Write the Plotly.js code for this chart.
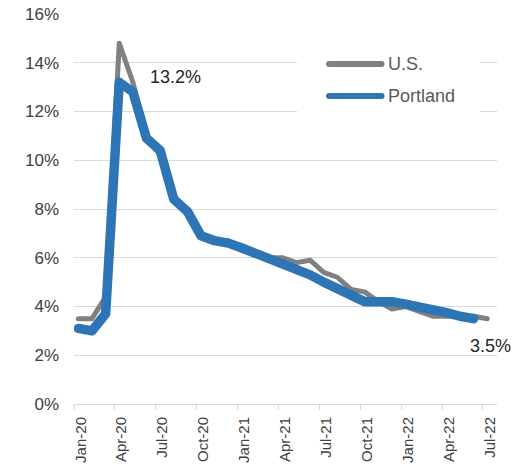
<!DOCTYPE html>
<html>
<head>
<meta charset="utf-8">
<script src="https://cdn.plot.ly/plotly-3.0.1.min.js"></script>
<style>
html,body{margin:0;padding:0;background:#fff;}
#chart{width:518px;height:472px;}
.scatterlayer .js-line{stroke-linejoin:round;stroke-linecap:round;}
.shapelayer path{stroke-linecap:round;}
</style>
</head>
<body>
<div id="chart"></div>
<script>
// Monthly unemployment rate, Jan-20 .. Jul-22 (month index 0..30)
const tickMonthIndex = [0,3,6,9,12,15,18,21,24,27,30];
const tickLabels = ["Jan-20","Apr-20","Jul-20","Oct-20","Jan-21","Apr-21","Jul-21","Oct-21","Jan-22","Apr-22","Jul-22"];
const usRate = [3.5,3.5,4.4,14.8,13.2,11.0,10.2,8.4,7.9,6.9,6.7,6.7,6.4,6.2,6.0,6.0,5.8,5.9,5.4,5.2,4.7,4.6,4.2,3.9,4.0,3.8,3.6,3.6,3.6,3.6,3.5];
const portlandRate = [3.1,3.0,3.7,13.2,12.8,10.9,10.4,8.4,7.9,6.9,6.7,6.6,6.4,6.2,6.0,5.8,5.6,5.3,5.0,4.7,4.4,4.2,4.2,4.2,4.1,4.0,3.85,3.75,3.6,3.5];
const yTicks = [0,2,4,6,8,10,12,14,16];
const seriesNames = ["U.S.","Portland"];

const idx = a => a.map((_, i) => i);
const xRange = [-0.32, 30.71];
const font = "Liberation Sans, Arial, sans-serif";

// Both x axes share the same range; x carries tick marks, x2 carries the (offset) labels.
const traces = [
  {x: idx(usRate), y: usRate, type: "scatter", mode: "lines", name: seriesNames[0],
   xaxis: "x", yaxis: "y", line: {color: "#808080", width: 5}, hoverinfo: "skip"},
  {x: idx(portlandRate), y: portlandRate, type: "scatter", mode: "lines", name: seriesNames[1],
   xaxis: "x2", yaxis: "y", line: {color: "#2E75B6", width: 9.5}, hoverinfo: "skip"}
];

// legend geometry in paper coords
const lgY = [0.872, 0.790];
const lgColors = ["#808080", "#2E75B6"];
const shapes = [
  {type: "rect", xref: "paper", yref: "paper", x0: 0.527, x1: 0.96, y0: 0.749, y1: 0.933,
   fillcolor: "#ffffff", line: {width: 0}, layer: "above"}
];
const annotations = [];
seriesNames.forEach((n, i) => {
  shapes.push({type: "line", xref: "paper", yref: "paper", x0: 0.603, x1: 0.727, y0: lgY[i], y1: lgY[i],
    line: {color: lgColors[i], width: 6}, layer: "above"});
  annotations.push({xref: "paper", yref: "paper", x: 0.738, y: lgY[i], text: n, showarrow: false,
    xanchor: "left", yanchor: "middle", font: {family: font, size: 18, color: "#595959"}});
});
// value labels
annotations.push({xref: "x2", yref: "y", x: 3, y: portlandRate[3], text: portlandRate[3].toFixed(1) + "%", showarrow: false,
  xanchor: "center", yanchor: "middle", xshift: 56, yshift: 5,
  font: {family: font, size: 18, color: "#262626"}});
annotations.push({xref: "x", yref: "y", x: usRate.length - 1, y: usRate[usRate.length - 1], text: usRate[usRate.length - 1].toFixed(1) + "%",
  showarrow: false, xanchor: "center", yanchor: "middle", xshift: 3, yshift: -27,
  font: {family: font, size: 18, color: "#262626"}});

const layout = {
  width: 518, height: 472,
  margin: {l: 74, r: 21, t: 14, b: 68, pad: 0},
  paper_bgcolor: "#ffffff", plot_bgcolor: "#ffffff",
  showlegend: false,
  font: {family: font, color: "#404040"},
  xaxis: {range: xRange, tickmode: "array", tickvals: tickMonthIndex.map(i => i - 0.32),
    showticklabels: false, ticks: "outside", ticklen: 5, tickcolor: "#d9d9d9", tickwidth: 1,
    showline: true, linecolor: "#d9d9d9", linewidth: 1, showgrid: false, zeroline: false, fixedrange: true},
  xaxis2: {overlaying: "x", anchor: "y", side: "bottom", range: xRange, tickmode: "array",
    tickvals: tickMonthIndex.map(i => i + 0.17), ticktext: tickLabels, tickangle: -90,
    ticks: "", showline: false, showgrid: false, zeroline: false, ticklabelstandoff: 9,
    tickfont: {family: font, size: 15, color: "#404040"}, fixedrange: true},
  yaxis: {range: [0, 16], tickmode: "array", tickvals: yTicks, ticktext: yTicks.map(v => v + "%"),
    showgrid: true, gridcolor: "#d9d9d9", gridwidth: 1, zeroline: false, showline: false,
    ticks: "", ticklabelstandoff: 14, tickfont: {family: font, size: 17, color: "#404040"}, fixedrange: true},
  shapes: shapes,
  annotations: annotations
};

Plotly.newPlot("chart", traces, layout, {displayModeBar: false, staticPlot: true});
</script>
</body>
</html>
